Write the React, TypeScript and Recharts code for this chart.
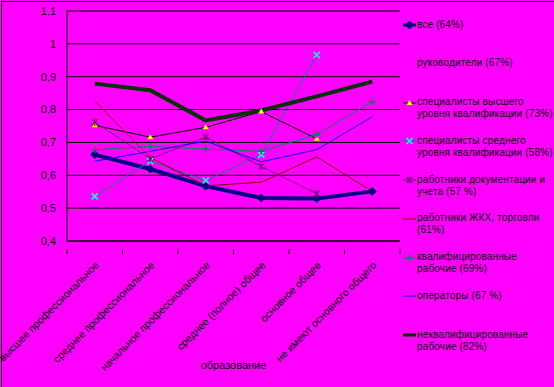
import { LineChart, Line, XAxis, YAxis, CartesianGrid } from 'recharts';

const categories = [
  'высшее профессиональное',
  'среднее профессиональное',
  'начальное профессиональное',
  'среднее (полное) общее',
  'основное общее',
  'не имеют основного общего',
];

const vse = [0.663, 0.619, 0.567, 0.531, 0.529, 0.551];
const specVysh = [0.752, 0.716, 0.746, 0.794, 0.711, null];
const specSred = [0.536, 0.643, 0.584, 0.663, 0.966, null];
const dokument = [0.762, 0.65, 0.716, 0.627, 0.544, null];
const zhkh = [0.826, 0.654, 0.568, 0.579, 0.656, 0.551];
const kvalif = [0.678, 0.688, 0.68, 0.673, 0.724, 0.824];
const operatory = [0.643, 0.673, 0.704, 0.641, 0.678, 0.778];
const nekvalif = [0.879, 0.859, 0.767, 0.797, 0.84, 0.885];

const yTicks = [0.4, 0.5, 0.6, 0.7, 0.8, 0.9, 1, 1.1];

// plot box
const LEFT = 67;
const RIGHT = 154;
const PLOT_W = 554 - LEFT - RIGHT;
const HALF_STEP = PLOT_W / categories.length / 2;

type Series = {
  key: string;
  name: string;
  values?: (number | null)[];
  color: string;
  width: number;
  marker?: string;
  markerColor?: string;
};

const series: Series[] = [
  { key: 'vse', name: 'все (64%)', values: vse, color: '#000080', width: 4, marker: 'diamond', markerColor: '#000080' },
  { key: 'ruk', name: 'руководители (67%)', color: 'none', width: 0 },
  { key: 'specVysh', name: 'специалисты высшего\nуровня квалификации (73%)', values: specVysh, color: '#000000', width: 1, marker: 'triangle', markerColor: '#FFFF00' },
  { key: 'specSred', name: 'специалисты среднего\nуровня квалификации (58%)', values: specSred, color: '#008080', width: 1, marker: 'x', markerColor: '#00FFFF' },
  { key: 'dokument', name: 'работники документации и\nучета (57 %)', values: dokument, color: '#800080', width: 1, marker: 'star', markerColor: '#800080' },
  { key: 'zhkh', name: 'работники ЖКХ, торговли\n(61%)', values: zhkh, color: '#800000', width: 1 },
  { key: 'kvalif', name: 'квалифицированные\nрабочие (69%)', values: kvalif, color: '#008060', width: 1, marker: 'plus', markerColor: '#008060' },
  { key: 'operatory', name: 'операторы (67 %)', values: operatory, color: '#0000FF', width: 1 },
  { key: 'nekvalif', name: 'неквалифицированные\nрабочие (82%)', values: nekvalif, color: '#003300', width: 4 },
];

const data = categories.map((name, i) => {
  const row: Record<string, any> = { name };
  series.forEach((s) => {
    if (s.values) row[s.key] = s.values[i];
  });
  return row;
});

const Marker = ({ cx, cy, shape, color }: any) => {
  if (cx == null || cy == null) return null;
  switch (shape) {
    case 'diamond':
      return <polygon points={`${cx},${cy - 4} ${cx + 4},${cy} ${cx},${cy + 4} ${cx - 4},${cy}`} fill={color} stroke={color} />;
    case 'triangle':
      return <polygon points={`${cx},${cy - 3} ${cx + 3},${cy + 2} ${cx - 3},${cy + 2}`} fill={color} stroke="none" />;
    case 'x':
      return <path d={`M${cx - 3},${cy - 3}L${cx + 3},${cy + 3}M${cx + 3},${cy - 3}L${cx - 3},${cy + 3}`} stroke={color} strokeWidth={1.6} />;
    case 'star':
      return <path d={`M${cx - 3},${cy - 3}L${cx + 3},${cy + 3}M${cx + 3},${cy - 3}L${cx - 3},${cy + 3}M${cx},${cy - 4}V${cy + 4}`} stroke={color} strokeWidth={1.2} />;
    case 'plus':
      return <path d={`M${cx - 3.5},${cy}H${cx + 3.5}M${cx},${cy - 3.5}V${cy + 3.5}`} stroke={color} strokeWidth={1.4} />;
    default:
      return null;
  }
};

const CategoryTick = ({ x, y, payload, index }: any) => (
  <g>
    <line x1={x - HALF_STEP} y1={y} x2={x - HALF_STEP} y2={y + 5} stroke="#000" />
    {index === categories.length - 1 && <line x1={x + HALF_STEP} y1={y} x2={x + HALF_STEP} y2={y + 5} stroke="#000" />}
    <text
      x={x + 2}
      y={y + 14}
      transform={`rotate(-45, ${x + 2}, ${y + 14})`}
      textAnchor="end"
      dominantBaseline="central"
      fontSize={10.5}
      fill="#000"
    >
      {payload.value}
    </text>
  </g>
);

const font = '"Liberation Sans", Arial, sans-serif';

function LegendBox() {
  return (
    <div style={{ position: 'absolute', left: 0, top: 0, width: 554, height: 387, pointerEvents: 'none' }}>
      {series.map((s, i) => {
        const cy = 25 + i * 38.75;
        return (
          <div key={s.key}>
            {s.color !== 'none' && (
              <svg style={{ position: 'absolute', left: 402, top: cy - 6 }} width={16} height={12}>
                <line x1={1} y1={6} x2={14} y2={6} stroke={s.color} strokeWidth={s.width === 4 ? 3 : 1} />
                {s.marker && <Marker cx={7.5} cy={6} shape={s.marker} color={s.markerColor} />}
              </svg>
            )}
            <div
              style={{
                position: 'absolute',
                left: 417,
                top: cy - 6.5,
                fontSize: 10,
                lineHeight: '12px',
                letterSpacing: 0.15,
                whiteSpace: 'pre',
                color: '#000',
                fontFamily: font,
              }}
            >
              {s.name}
            </div>
          </div>
        );
      })}
    </div>
  );
}

export default function App() {
  return (
    <div style={{ position: 'absolute', left: 0, top: 0, width: 554, height: 387, background: '#FF00FF', fontFamily: font, overflow: 'hidden' }}>
      <div style={{ position: 'absolute', left: 1, top: 1, width: 560, height: 400, borderTop: '1px solid #000', borderLeft: '1px solid #000' }} />
      <LineChart width={554} height={387} data={data} margin={{ top: 11, right: RIGHT, bottom: 0, left: 0 }} style={{ fontFamily: font }}>
        <CartesianGrid horizontal vertical={false} stroke="#000" strokeOpacity={1} />
        <XAxis
          dataKey="name"
          height={146}
          axisLine={{ stroke: '#000' }}
          tickLine={false}
          interval={0}
          padding={{ left: HALF_STEP, right: HALF_STEP }}
          tick={<CategoryTick />}
          label={{ value: 'образование', position: 'insideBottom', offset: 18, fill: '#000', fontSize: 11 }}
        />
        <YAxis
          domain={[0.4, 1.1]}
          ticks={yTicks}
          width={LEFT}
          axisLine={{ stroke: '#000' }}
          tickLine={false}
          tickSize={0}
          tickMargin={11}
          tick={{ fill: '#000', fontSize: 11 }}
          tickFormatter={(v: number) => String(v).replace('.', ',')}
          allowDataOverflow
        />
        {series
          .filter((s) => s.values)
          .map((s) => (
            <Line
              key={s.key}
              dataKey={s.key}
              stroke={s.color}
              strokeWidth={s.width}
              isAnimationActive={false}
              connectNulls={false}
              dot={
                s.marker
                  ? (p: any) => <Marker key={`${s.key}-${p.index}`} cx={p.cx} cy={p.cy} shape={s.marker} color={s.markerColor} />
                  : false
              }
              activeDot={false}
            />
          ))}
      </LineChart>
      <LegendBox />
    </div>
  );
}
